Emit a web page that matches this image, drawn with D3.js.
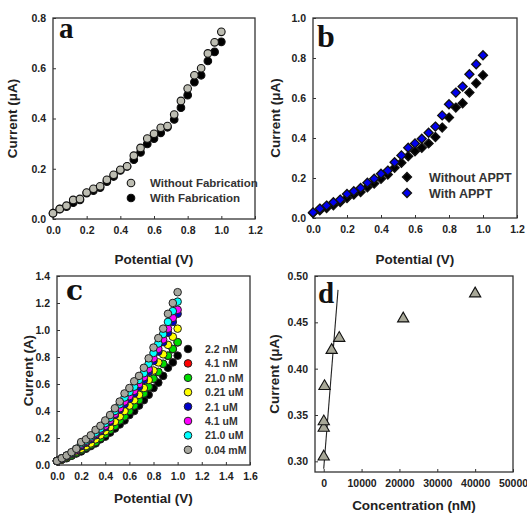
<!DOCTYPE html>
<html><head><meta charset="utf-8">
<script src="https://cdn.jsdelivr.net/npm/d3@7"></script>
<style>body{margin:0;background:#fff}svg{display:block}</style>
</head><body>
<script>
const potential = [0,0.04,0.08,0.12,0.16,0.2,0.24,0.28,0.32,0.36,0.4,0.44,0.48,0.52,0.56,0.6,0.64,0.68,0.72,0.76,0.8,0.84,0.88,0.92,0.96,1.0];

// Panel a
const aWithout = [0.023,0.04,0.053,0.076,0.08,0.105,0.12,0.13,0.156,0.176,0.196,0.21,0.252,0.283,0.32,0.339,0.363,0.37,0.416,0.47,0.519,0.572,0.6,0.659,0.703,0.745];
const aWith    = [0.023,0.039,0.049,0.065,0.076,0.103,0.113,0.125,0.149,0.169,0.193,0.209,0.236,0.265,0.299,0.32,0.343,0.365,0.396,0.443,0.493,0.545,0.572,0.629,0.665,0.705];

// Panel b
const bWithout = [0.025,0.038,0.05,0.064,0.08,0.1,0.117,0.13,0.154,0.172,0.196,0.217,0.251,0.276,0.309,0.334,0.351,0.373,0.405,0.452,0.502,0.552,0.574,0.627,0.674,0.714];
const bWith    = [0.028,0.047,0.062,0.079,0.092,0.12,0.134,0.15,0.176,0.196,0.221,0.237,0.279,0.313,0.351,0.373,0.396,0.426,0.457,0.513,0.569,0.627,0.657,0.719,0.769,0.814];

// Panel c
const cLabels = ["2.2 nM","4.1 nM","21.0 nM","0.21 uM","2.1 uM","4.1 uM","21.0 uM","0.04 mM"];
const cColors = ["#000000","#ff0000","#00dd00","#ffff00","#0000cc","#ff00ff","#00ffff","#a8a8a0"];
const c_2_2nM  = [0.03,0.04,0.05,0.07,0.085,0.10,0.12,0.14,0.16,0.19,0.21,0.24,0.27,0.30,0.33,0.37,0.40,0.44,0.48,0.52,0.57,0.61,0.66,0.72,0.76,0.81];
const c_4_1nM  = [0.03,0.04,0.054,0.069,0.088,0.108,0.128,0.148,0.168,0.198,0.228,0.258,0.288,0.328,0.358,0.398,0.438,0.478,0.528,0.578,0.638,0.688,0.748,0.808,0.858,0.908];
const c_21nM   = [0.03,0.04,0.055,0.07,0.09,0.11,0.13,0.15,0.17,0.20,0.23,0.26,0.29,0.33,0.36,0.40,0.44,0.48,0.53,0.58,0.64,0.69,0.75,0.81,0.86,0.91];
const c_0_21uM = [0.03,0.04,0.06,0.08,0.10,0.12,0.14,0.16,0.19,0.22,0.25,0.28,0.32,0.36,0.40,0.44,0.48,0.52,0.57,0.63,0.70,0.76,0.82,0.89,0.95,1.01];
const c_2_1uM  = [0.03,0.045,0.065,0.085,0.11,0.14,0.165,0.19,0.22,0.25,0.28,0.32,0.37,0.41,0.45,0.49,0.53,0.58,0.63,0.69,0.77,0.84,0.91,0.98,1.06,1.12];
const c_4_1uM  = [0.03,0.05,0.07,0.09,0.11,0.15,0.17,0.20,0.23,0.26,0.29,0.33,0.38,0.42,0.47,0.51,0.55,0.60,0.65,0.71,0.79,0.86,0.93,1.01,1.09,1.15];
const c_21uM   = [0.03,0.05,0.07,0.09,0.12,0.16,0.18,0.21,0.24,0.27,0.31,0.35,0.40,0.45,0.50,0.54,0.58,0.63,0.68,0.75,0.83,0.90,0.97,1.06,1.14,1.21];
const c_0_04mM = [0.03,0.05,0.07,0.095,0.12,0.17,0.19,0.22,0.26,0.29,0.33,0.37,0.42,0.47,0.53,0.57,0.62,0.66,0.72,0.79,0.87,0.94,1.01,1.12,1.20,1.28];
const cSeries = [c_2_2nM,c_4_1nM,c_21nM,c_0_21uM,c_2_1uM,c_4_1uM,c_21uM,c_0_04mM];
const cDrawOrder = [1,0,2,3,4,5,6,7];

// Panel d
const dConc    = [2.2,4.1,21,210,2100,4100,21000,40000];
const dCurrent = [0.305,0.336,0.343,0.381,0.420,0.433,0.454,0.481];
const dFitX = [0,3780];
const dFitY = [0.292,0.485];

const SANS = "'Liberation Sans',Arial,sans-serif";
const SERIF = "'Liberation Serif','Times New Roman',serif";

const svg = d3.select("body").append("svg").attr("width",527).attr("height",513)
  .style("font-family",SANS);

function panel(o){
  const x = d3.scaleLinear().domain(o.xd).range([o.l,o.r]);
  const y = d3.scaleLinear().domain(o.yd).range([o.b,o.t]);
  const g = svg.append("g");
  const xa = g.append("g").attr("transform",`translate(0,${o.b})`)
    .call(d3.axisBottom(x).tickValues(o.xt).tickFormat(o.xf).tickSizeInner(-3).tickSizeOuter(0).tickPadding(8));
  const ya = g.append("g").attr("transform",`translate(${o.l},0)`)
    .call(d3.axisLeft(y).tickValues(o.yt).tickFormat(o.yf).tickSizeInner(-3).tickSizeOuter(0).tickPadding(7));
  [xa,ya].forEach(a=>{
    a.select(".domain").remove();
    a.attr("font-family",null);
    a.selectAll("line").attr("stroke","#333");
    a.selectAll("text").attr("font-size",10.5).attr("font-weight","bold").attr("fill","#222").style("font-family",SANS);
  });
  g.append("rect").attr("x",o.l).attr("y",o.t).attr("width",o.r-o.l).attr("height",o.b-o.t)
    .attr("fill","none").attr("stroke","#333").attr("stroke-width",1.3);
  g.append("text").attr("x",(o.l+o.r)/2).attr("y",o.xty).attr("text-anchor","middle")
    .attr("font-size",13.5).attr("font-weight","bold").attr("fill","#222").text(o.xtitle);
  g.append("text").attr("transform",`translate(${o.ytx},${(o.t+o.b)/2}) rotate(-90)`).attr("text-anchor","middle")
    .attr("font-size",13.5).attr("font-weight","bold").attr("fill","#222").text(o.ytitle);
  g.append("text").attr("x",o.lx).attr("y",o.ly).style("font-family",o.lf||SERIF)
    .attr("font-size",o.ls).attr("font-weight","bold").attr("fill","#111").text(o.letter);
  return {g,x,y};
}

const f1 = d3.format(".1f");

// a
{
  const p = panel({l:53,r:255,t:18,b:219,xd:[0,1.2],yd:[0,0.8],xt:[0,0.2,0.4,0.6,0.8,1.0,1.2],yt:[0,0.2,0.4,0.6,0.8],
    xf:f1,yf:f1,xtitle:"Potential (V)",xty:264,ytitle:"Current (μA)",ytx:17,letter:"a",lx:59,ly:38,ls:29});
  [[aWith,"#000"],[aWithout,"#bdbdb2"]].forEach(([vals,col])=>{
    p.g.append("g").selectAll("circle").data(potential).join("circle")
      .attr("cx",d=>p.x(d)).attr("cy",(d,i)=>p.y(vals[i])).attr("r",3.8)
      .attr("fill",col).attr("stroke","#111").attr("stroke-width",1.1);
  });
  [["Without Fabrication","#bdbdb2",183],["With Fabrication","#000",198]].forEach(([t,c,yy])=>{
    p.g.append("circle").attr("cx",131).attr("cy",yy).attr("r",3.8).attr("fill",c).attr("stroke","#111").attr("stroke-width",1.1);
    p.g.append("text").attr("x",150).attr("y",yy+4).attr("font-size",11.5).attr("font-weight","bold").attr("fill","#333").text(t);
  });
}

// b
{
  const p = panel({l:313,r:517,t:18,b:218,xd:[0,1.2],yd:[0,1.0],xt:[0,0.2,0.4,0.6,0.8,1.0,1.2],yt:[0,0.2,0.4,0.6,0.8,1.0],
    xf:f1,yf:f1,xtitle:"Potential (V)",xty:264,ytitle:"Current (μA)",ytx:280,letter:"b",lx:317,ly:47,ls:32});
  const diamond = d3.symbol().type(d3.symbolDiamond2).size(52);
  [[bWithout,"#000"],[bWith,"#0000ee"]].forEach(([vals,col])=>{
    p.g.append("g").selectAll("path").data(potential).join("path")
      .attr("transform",(d,i)=>`translate(${p.x(d)},${p.y(vals[i])})`).attr("d",diamond)
      .attr("fill",col).attr("stroke","#111").attr("stroke-width",1.3);
  });
  [["Without APPT","#000",177],["With APPT","#0000ee",193]].forEach(([t,c,yy])=>{
    p.g.append("path").attr("transform",`translate(407,${yy})`).attr("d",diamond).attr("fill",c).attr("stroke","#111").attr("stroke-width",1.3);
    p.g.append("text").attr("x",429).attr("y",yy+5).attr("font-size",12.5).attr("font-weight","bold").attr("fill","#333").text(t);
  });
}

// c
{
  const p = panel({l:57,r:250,t:276,b:465,xd:[0,1.6],yd:[0,1.4],xt:[0,0.2,0.4,0.6,0.8,1.0,1.2,1.4,1.6],yt:[0,0.2,0.4,0.6,0.8,1.0,1.2,1.4],
    xf:f1,yf:f1,xtitle:"Potential (V)",xty:503,ytitle:"Current (A)",ytx:33,letter:"c",lx:66,ly:300,ls:28,lf:"'DejaVu Serif',serif"});
  cDrawOrder.forEach(k=>{
    p.g.append("g").selectAll("circle").data(potential).join("circle")
      .attr("cx",d=>p.x(d)).attr("cy",(d,i)=>p.y(cSeries[k][i])).attr("r",3.8)
      .attr("fill",cColors[k]).attr("stroke","#222").attr("stroke-width",1);
  });
  cLabels.forEach((t,i)=>{
    const yy=349+i*14.4;
    p.g.append("circle").attr("cx",188).attr("cy",yy).attr("r",3.8).attr("fill",cColors[i]).attr("stroke","#222");
    p.g.append("text").attr("x",205).attr("y",yy+4).attr("font-size",10.5).attr("font-weight","bold").attr("fill","#333").text(t);
  });
}

// d
{
  const p = panel({l:315,r:513,t:276,b:472,xd:[-2300,50000],yd:[0.2885,0.5],xt:[0,10000,20000,30000,40000,50000],yt:[0.30,0.35,0.40,0.45,0.50],
    xf:d3.format("d"),yf:d3.format(".2f"),xtitle:"Concentration (nM)",xty:510,ytitle:"Current (μA)",ytx:279,letter:"d",lx:318,ly:303,ls:29});
  p.g.append("path").datum(dFitX.map((v,i)=>[v,dFitY[i]]))
    .attr("d",d3.line().x(d=>p.x(d[0])).y(d=>p.y(d[1]))).attr("stroke","#222").attr("stroke-width",1.1).attr("fill","none");
  const tri = d3.symbol().type(d3.symbolTriangle).size(55);
  p.g.append("g").selectAll("path").data(dConc).join("path")
    .attr("transform",(d,i)=>`translate(${p.x(d)},${p.y(dCurrent[i])})`).attr("d",tri)
    .attr("fill","#a8a898").attr("stroke","#111").attr("stroke-width",1.1);
}
</script>
</body></html>
